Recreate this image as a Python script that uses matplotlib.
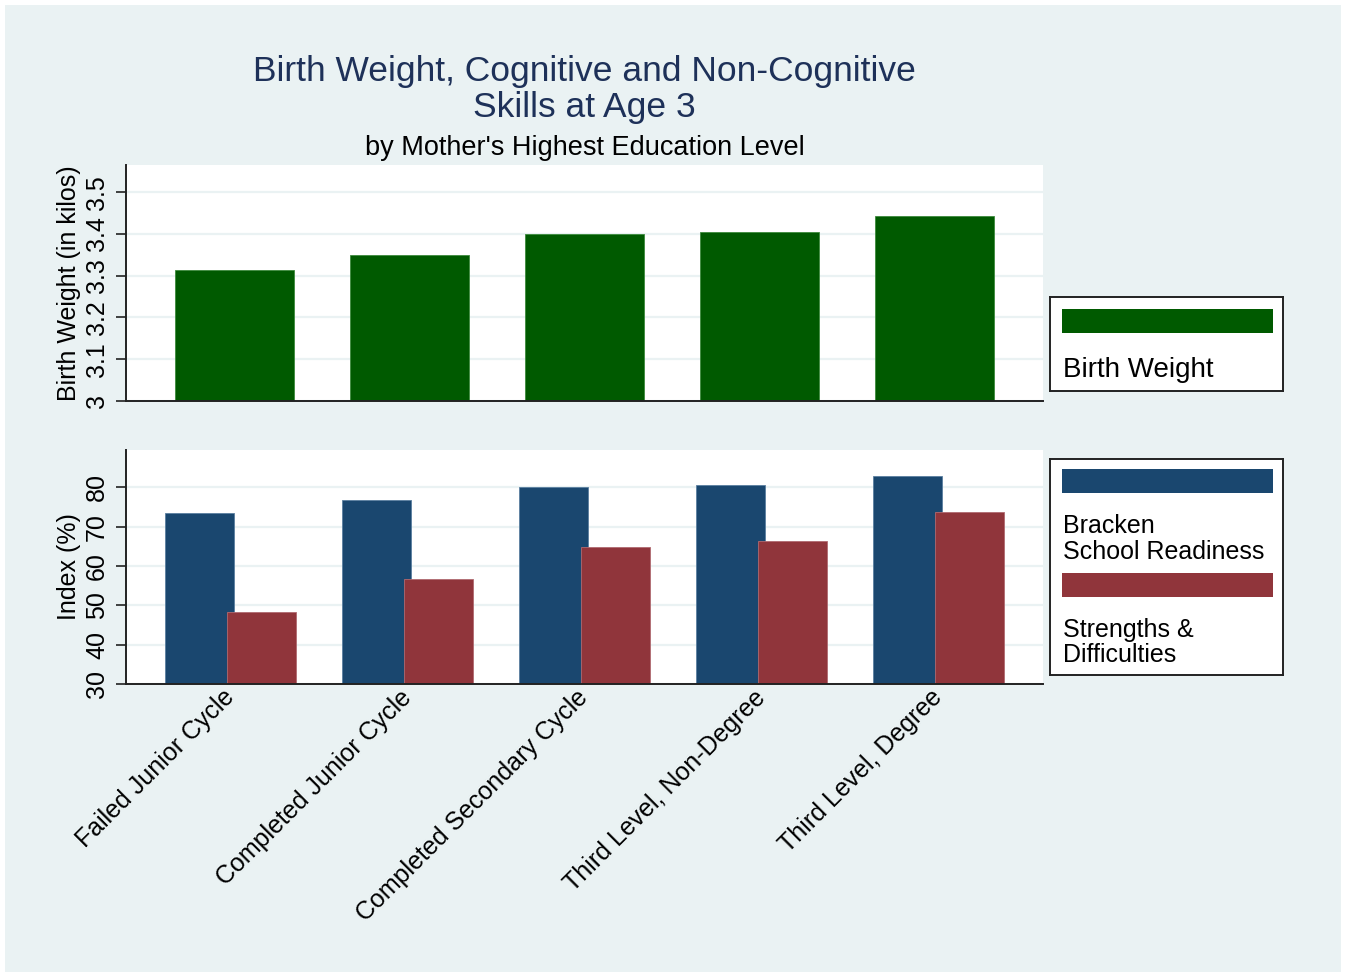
import numpy as np
import matplotlib
matplotlib.use("Agg")
import matplotlib.pyplot as plt
from matplotlib.patches import Rectangle

plt.rcParams['font.family'] = ['Liberation Sans', 'DejaVu Sans']

categories = ["Failed Junior Cycle", "Completed Junior Cycle", "Completed Secondary Cycle",
              "Third Level, Non-Degree", "Third Level, Degree"]
birth_weight = [3.313, 3.349, 3.400, 3.404, 3.443]
bracken = [73.4, 76.7, 80.0, 80.5, 83.0]
sdq = [48.3, 56.6, 64.8, 66.3, 73.7]

bw_ticks = [3, 3.1, 3.2, 3.3, 3.4, 3.5]
idx_ticks = [30, 40, 50, 60, 70, 80]

BG = '#EAF2F3'
GREEN = '#005A00'
NAVY = '#1A476F'
MAROON = '#90353B'
TITLE = '#1E3159'

W, H = 1346, 977
fig = plt.figure(figsize=(W / 100, H / 100), dpi=100, facecolor='white')
fig.patches.append(Rectangle((5 / W, 5 / H), 1336 / W, 967 / H, transform=fig.transFigure,
                             facecolor=BG, edgecolor='none', zorder=-10))


def px_axes(x0, y0, x1, y1):
    return fig.add_axes([x0 / W, 1 - y1 / H, (x1 - x0) / W, (y1 - y0) / H])


def style(ax, ticks, ylim):
    ax.set_facecolor('white')
    for s in ['top', 'right']:
        ax.spines[s].set_visible(False)
    for s in ['left', 'bottom']:
        ax.spines[s].set_color('#222222')
        ax.spines[s].set_linewidth(1.4)
    ax.set_ylim(*ylim)
    ax.set_yticks(ticks)
    ax.set_yticklabels([f"{t:g}" for t in ticks], rotation=90, va='center', fontsize=18)
    ax.tick_params(axis='y', length=7.2, width=1.2, color='#222222', pad=5)
    ax.tick_params(axis='x', length=0)
    ax.grid(axis='y', color=BG, linewidth=1.6)
    ax.set_axisbelow(True)


x = np.arange(len(categories))

# top panel: birth weight
ax1 = px_axes(126, 165, 1043, 401)
style(ax1, bw_ticks, (3, 3.565))
ax1.bar(x, np.array(birth_weight) - 3, bottom=3, width=0.68, color=GREEN,
        edgecolor='#3d8a3d', linewidth=0.6)
ax1.set_xlim(-0.62, 4.62)
ax1.set_xticks([])
ax1.set_ylabel("Birth Weight (in kilos)", fontsize=18)
ax1.yaxis.set_label_coords(-0.049, 0.5)

# bottom panel: indices
ax2 = px_axes(126, 450, 1043, 684)
style(ax2, idx_ticks, (30, 89.5))
ax2.bar(x - 0.175, np.array(bracken) - 30, bottom=30, width=0.39, color=NAVY,
        edgecolor='#5a7fa0', linewidth=0.6)
ax2.bar(x + 0.175, np.array(sdq) - 30, bottom=30, width=0.39, color=MAROON,
        edgecolor='#b06a70', linewidth=0.6)
ax2.set_xlim(-0.59, 4.59)
ax2.set_xticks(x)
ax2.set_xticklabels(categories, rotation=45, ha='right', va='center',
                    rotation_mode='anchor', fontsize=18)
ax2.tick_params(axis='x', pad=7)
ax2.set_ylabel("Index (%)", fontsize=18)
ax2.yaxis.set_label_coords(-0.049, 0.5)

# titles
cx = 584.5 / W
fig.text(cx, 1 - 72 / H, "Birth Weight, Cognitive and Non-Cognitive", ha='center', va='center',
         fontsize=25.5, color=TITLE)
fig.text(cx, 1 - 108 / H, "Skills at Age 3", ha='center', va='center', fontsize=25.5, color=TITLE)
fig.text(cx, 1 - 148 / H, "by Mother's Highest Education Level", ha='center', va='center',
         fontsize=19.5, color='black')


# legends drawn as boxes in pixel coordinates
def legend_box(x0, y0, x1, y1, patches, labels, size):
    lg = px_axes(x0, y0, x1, y1)
    lg.set_xlim(0, x1 - x0)
    lg.set_ylim(y1 - y0, 0)
    lg.set_xticks([])
    lg.set_yticks([])
    lg.set_facecolor('white')
    for s in lg.spines.values():
        s.set_color('#222222')
        s.set_linewidth(1.4)
    for color, top in patches:
        lg.add_patch(Rectangle((12, top), 211, 24, facecolor=color, edgecolor='none'))
    for text, base in labels:
        lg.text(13, base, text, ha='left', va='baseline', fontsize=size)


legend_box(1050, 297, 1283, 391, [(GREEN, 12)], [("Birth Weight", 80)], 20)
legend_box(1050, 459, 1283, 675, [(NAVY, 10), (MAROON, 114)],
           [("Bracken", 74), ("School Readiness", 100),
            ("Strengths &", 178), ("Difficulties", 203)], 18)

fig.savefig("out.png", dpi=100, facecolor='white')
